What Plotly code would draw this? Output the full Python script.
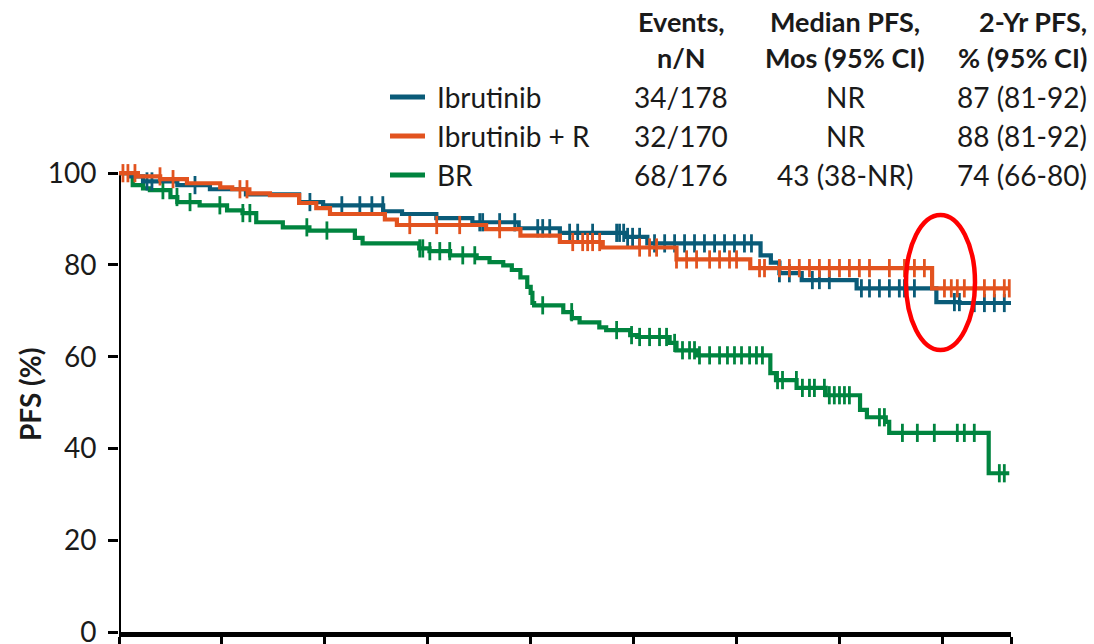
import numpy as np
import plotly.graph_objects as go

# ---------------- data (months, PFS %) ----------------
months_ibr = [0, 0.6, 1.4, 3.4, 5.3, 7.4, 10.5, 11.9, 15.4, 16.5, 18.5, 20.6, 23.3, 25.7,
              29.6, 30.8, 37.4, 38.0, 38.5, 39.8, 43.0, 47.65, 49.0]
pfs_ibr = [100, 99.3, 98.2, 97.4, 96.5, 95.4, 93.7, 93.0, 91.7, 91.1, 90.2, 89.3, 88.0, 87.0,
           86.1, 84.7, 82.1, 80.5, 78.2, 76.7, 74.9, 71.9, 71.7]
end_ibr = 52.0
cens_ibr = [1.63, 1.92, 4.43, 11.13, 12.99, 14.04, 14.74, 15.38, 21.03, 21.2, 22.19, 23.07, 24.41,
            24.70, 25.11, 26.27, 26.74, 27.61, 29.01, 29.18, 29.42, 29.65, 29.94, 30.35, 31.22,
            31.81, 32.39, 32.97, 33.55, 34.13, 34.72, 35.30, 35.88, 36.46, 36.87, 38.50, 39.08,
            40.42, 40.83, 41.41, 43.28, 43.75, 44.33, 44.91, 45.49, 45.79, 46.37, 48.70, 48.99,
            49.86, 50.45, 51.03, 51.61]

months_ibr_r = [0, 1.1, 2.4, 3.96, 5.9, 6.6, 7.6, 8.8, 10.5, 11.5, 12.3, 15.5, 16.2, 21.4, 23.4,
                25.7, 28.2, 32.5, 36.8, 47.4]
pfs_ibr_r = [100, 99.3, 98.7, 97.8, 96.9, 96.5, 95.6, 95.2, 93.5, 92.4, 91.1, 89.9, 88.7, 87.8,
             86.4, 85.0, 83.8, 81.2, 79.3, 74.9]
end_ibr_r = 51.9
cens_ibr_r = [0.23, 0.52, 0.93, 2.39, 3.15, 7.05, 7.46, 16.95, 18.52, 19.86, 22.19, 26.45, 27.03,
              27.32, 27.61, 28.02, 30.35, 30.93, 31.34, 32.50, 33.09, 33.67, 34.43, 35.01, 35.59,
              36.0, 37.34, 37.63, 38.50, 39.08, 39.66, 40.25, 40.83, 41.41, 42.0, 42.58, 43.16,
              43.75, 44.91, 45.79, 46.37, 46.95, 48.12, 48.52, 48.87, 49.28, 50.45, 51.03, 51.61,
              51.90]

months_br = [0, 0.8, 1.4, 1.8, 3.0, 3.4, 4.7, 6.3, 7.2, 8.0, 9.55, 11.1, 13.75, 14.2, 17.5, 18.1,
             19.3, 20.85, 21.6, 22.4, 22.9, 23.4, 23.8, 24.0, 24.1, 24.2, 25.9, 26.4, 26.85,
             28.0, 28.4, 29.8, 30.2, 32.1, 32.5, 33.7, 37.97, 38.3, 39.5, 41.2, 43.2, 43.6,
             44.7, 44.9, 50.7]
pfs_br = [100, 97.4, 96.7, 96.3, 94.8, 93.7, 93.0, 91.9, 91.3, 89.3, 88.2, 87.5, 85.9, 84.7,
          83.6, 83.0, 82.1, 81.5, 80.6, 79.9, 78.9, 77.3, 75.2, 73.9, 71.7, 71.2, 69.7, 68.4,
          67.5, 66.4, 65.8, 64.7, 64.3, 63.0, 61.4, 60.3, 56.4, 54.9, 53.2, 51.6, 48.4, 46.8,
          45.8, 43.4, 34.6]
end_br = 51.9
cens_br = [2.56, 3.38, 4.14, 5.88, 7.22, 7.63, 10.95, 12.12, 17.53, 17.71, 18.12, 18.70, 19.28,
           20.04, 20.74, 24.70, 26.39, 29.01, 29.88, 30.35, 30.93, 31.51, 31.92, 32.39, 32.85,
           33.26, 33.55, 33.84, 34.43, 35.01, 35.47, 35.88, 36.29, 36.76, 37.16, 37.51, 38.39,
           38.68, 39.49, 39.84, 40.25, 40.54, 41.12, 41.41, 41.70, 42.0, 42.29, 42.58, 44.33,
           44.62, 45.67, 46.54, 47.53, 48.87, 49.28, 49.86, 51.32, 51.61]

arms = ["Ibrutinib", "Ibrutinib + R", "BR"]
events = ["34/178", "32/170", "68/176"]
median_pfs = ["NR", "NR", "43 (38-NR)"]
two_yr_pfs = ["87 (81-92)", "88 (81-92)", "74 (66-80)"]
headers = [["Events,", "n/N"], ["Median PFS,", "Mos (95% CI)"], ["2-Yr PFS,", "% (95% CI)"]]

x_ticks = [0, 6, 12, 18, 24, 30, 36, 42, 48, 52]
y_ticks = [0, 20, 40, 60, 80, 100]

colors = ["#0a5b78", "#e2531f", "#00843f"]
FONT = "Lato"

# ---------------- layout geometry (pixels) ----------------
W, H = 1094, 644
L, R = 119, 1011
T, B = 164, 632


def px(x):
    return (x - L) / (R - L)


def py(y):
    return (B - y) / (B - T)


fig = go.Figure()

series = [
    (months_ibr, pfs_ibr, end_ibr, cens_ibr, colors[0], arms[0]),
    (months_ibr_r, pfs_ibr_r, end_ibr_r, cens_ibr_r, colors[1], arms[1]),
    (months_br, pfs_br, end_br, cens_br, colors[2], arms[2]),
]
for idx in [2, 0, 1]:
    t, s, e, c, col, name = series[idx]
    xs = list(t) + [e]
    ys = list(s) + [s[-1]]
    fig.add_trace(go.Scatter(x=xs, y=ys, mode="lines", line=dict(color=col, width=4.2, shape="hv"),
                             name=name, showlegend=False, hoverinfo="skip"))
    ta = np.array(t)
    ci = np.searchsorted(ta, np.array(c), side="right") - 1
    cy = [s[i] for i in ci]
    fig.add_trace(go.Scatter(x=c, y=cy, mode="markers",
                             marker=dict(symbol="line-ns", size=13, line=dict(color=col, width=2.8)),
                             showlegend=False, hoverinfo="skip"))

shapes = []
# y axis line
shapes.append(dict(type="line", xref="x", yref="y", x0=0, x1=0, y0=0, y1=100,
                   line=dict(color="black", width=4), layer="below"))
# legend line samples
row_y = [97, 136, 175]
for i, yy in enumerate(row_y):
    shapes.append(dict(type="line", xref="paper", yref="paper", x0=px(390), x1=px(425),
                       y0=py(yy), y1=py(yy), line=dict(color=colors[i], width=5)))
# red ellipse
shapes.append(dict(type="circle", xref="paper", yref="paper", x0=px(906), x1=px(975),
                   y0=py(350), y1=py(215), line=dict(color="#ff0000", width=4.5)))

annotations = []
tc = "#1a1a1a"
col_x = [681, 845, 1089]
col_anchor = ["center", "center", "right"]
for j, hdr in enumerate(headers):
    for k, line in enumerate(hdr):
        annotations.append(dict(x=px(col_x[j]), y=py([22, 58][k]), xref="paper", yref="paper",
                                text="<b>%s</b>" % line, showarrow=False, xanchor=col_anchor[j],
                                yanchor="middle", font=dict(family=FONT, size=27, color=tc)))
for i in range(3):
    annotations.append(dict(x=px(435), y=py(row_y[i]), xref="paper", yref="paper", text=arms[i],
                            showarrow=False, xanchor="left", yanchor="middle",
                            font=dict(family=FONT, size=28, color=tc)))
    for j, vals in enumerate([events, median_pfs, two_yr_pfs]):
        annotations.append(dict(x=px(col_x[j]), y=py(row_y[i]), xref="paper", yref="paper",
                                text=vals[i], showarrow=False, xanchor=col_anchor[j],
                                yanchor="middle", font=dict(family=FONT, size=28, color=tc)))
# y axis title
annotations.append(dict(x=px(30), y=py(395), xref="paper", yref="paper", text="<b>PFS (%)</b>",
                        textangle=-90, showarrow=False, xanchor="center", yanchor="middle",
                        font=dict(family=FONT, size=28, color=tc)))

fig.update_layout(
    width=W, height=H,
    margin=dict(l=L, r=W - R, t=T, b=H - B, pad=0, autoexpand=False),
    paper_bgcolor="white", plot_bgcolor="white",
    shapes=shapes, annotations=annotations,
    showlegend=False,
    xaxis=dict(range=[0, 52], tickvals=x_ticks, showticklabels=False, ticks="outside",
               ticklen=14, tickwidth=3, tickcolor="black", showline=True, linewidth=5,
               linecolor="black", showgrid=False, zeroline=False, fixedrange=True,
               automargin=False),
    yaxis=dict(range=[0, 102], tickvals=y_ticks, ticks="outside", ticklen=10, tickwidth=3,
               tickcolor="black", showline=False, showgrid=False, zeroline=False,
               tickfont=dict(family=FONT, size=28, color=tc), ticklabelstandoff=6,
               ticklabeloverflow="allow", fixedrange=True, automargin=False),
)

fig.write_html("out.html")
